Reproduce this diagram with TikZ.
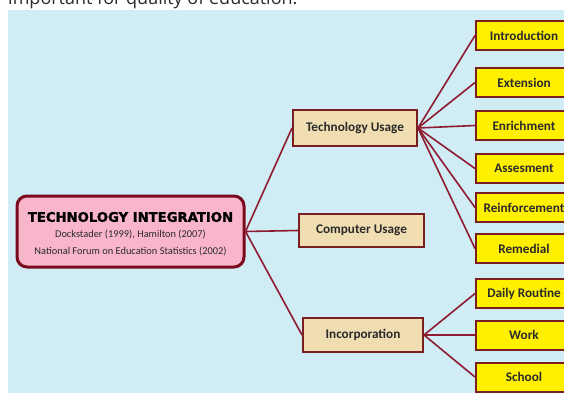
\documentclass[tikz,border=0pt]{standalone}
\usepackage{fontspec}
\setmainfont{Carlito}
\newfontfamily\titlefont[BoldFeatures={FakeBold=1.5}]{DejaVu Sans}
\newfontfamily\topfont{Open Sans}
\definecolor{panel}{HTML}{D0ECF4}
\definecolor{pinkfill}{HTML}{F9B6CA}
\definecolor{mainborder}{HTML}{7A0A1E}
\definecolor{tanfill}{HTML}{F0DEB2}
\definecolor{boxborder}{HTML}{7B1E22}
\definecolor{yel}{HTML}{FFF000}
\definecolor{conncol}{HTML}{8E1B30}
\definecolor{txt}{HTML}{2A2A2A}
\tikzset{
  mainbox/.style={draw=mainborder, line width=3pt, fill=pinkfill, rounded corners=10pt, minimum width=227pt, minimum height=71pt, inner sep=0pt, align=center},
  tanbox/.style={draw=boxborder, line width=2pt, fill=tanfill, inner sep=0pt, font=\bfseries\fontsize{13.2}{15}\selectfont, text=txt},
  yelbox/.style={draw=boxborder, line width=2pt, fill=yel, inner sep=0pt, minimum width=96pt, minimum height=29pt, font=\bfseries\fontsize{13.2}{15}\selectfont, text=txt},
  conn/.style={draw=conncol, line width=1.6pt}
}
\begin{document}
\begin{tikzpicture}[x=1pt,y=-1pt]
\useasboundingbox (0,0) rectangle (564,393);
\clip (0,0) rectangle (564,393);
\fill[white] (0,0) rectangle (564,393);
\fill[panel] (8,10) rectangle (564,393);
\node[anchor=base west, inner sep=0pt, font=\topfont\fontsize{18}{18}\selectfont, text=txt] (toptext) at (8,4.5) {important for quality of education.};

\node[mainbox] (main) at (130.5,231.5) {};
\node[font=\titlefont\bfseries\fontsize{13.2}{15}\selectfont, text=black, inner sep=0pt] (title) at (130.5,217) {TECHNOLOGY INTEGRATION};
\node[font=\fontsize{10.4}{17}\selectfont, text=txt, inner sep=0pt, align=center] (refs) at (130.5,242.5) {Dockstader (1999), Hamilton (2007)\\National Forum on Education Statistics (2002)};

\node[tanbox, minimum width=124pt, minimum height=36pt] (tech) at (355,128) {Technology Usage};
\node[tanbox, minimum width=125pt, minimum height=33pt] (comp) at (361.5,230.5) {Computer Usage};
\node[tanbox, minimum width=120pt, minimum height=34pt] (inc) at (363,335) {Incorporation};

\node[yelbox] (intro) at (524,35.5) {Introduction};
\node[yelbox] (ext) at (524,82.5) {Extension};
\node[yelbox] (enr) at (524,125.5) {Enrichment};
\node[yelbox] (ass) at (524,168.5) {Assesment};
\node[yelbox] (rein) at (524,207.5) {Reinforcement};
\node[yelbox] (rem) at (524,248.5) {Remedial};
\node[yelbox] (daily) at (524,293.5) {Daily Routine};
\node[yelbox] (work) at (524,335) {Work};
\node[yelbox] (school) at (524,377) {School};

\draw[conn] (main.east) -- (tech.west);
\draw[conn] (main.east) -- (comp.west);
\draw[conn] (main.east) -- (inc.west);
\foreach \t in {intro,ext,enr,ass,rein,rem}{\draw[conn] (tech.east) -- (\t.west);}
\foreach \t in {daily,work,school}{\draw[conn] (inc.east) -- (\t.west);}
\end{tikzpicture}
\end{document}
